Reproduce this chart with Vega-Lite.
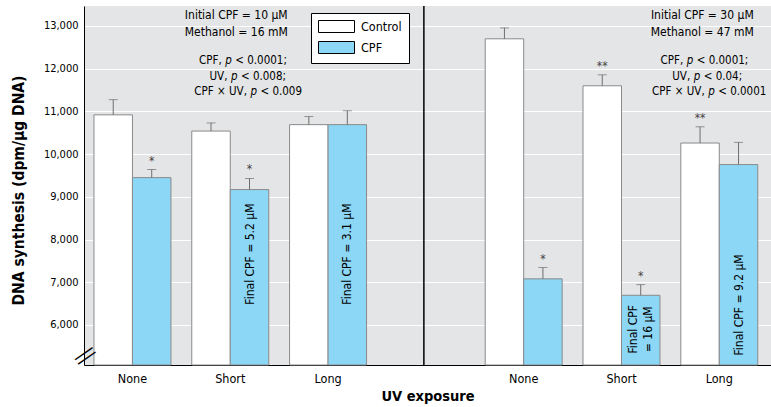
{
  "$schema": "https://vega.github.io/schema/vega-lite/v6.json",
  "width": 687,
  "height": 359,
  "autosize": {"type": "none"},
  "padding": {"left": 84, "top": 6, "right": 0, "bottom": 42},
  "background": "white",
  "config": {
    "font": "DejaVu Sans Condensed, DejaVu Sans, sans-serif",
    "view": {"fill": "#e4e5e6", "stroke": null},
    "axis": {
      "domainColor": "black",
      "domainWidth": 1,
      "ticks": false,
      "labelColor": "black",
      "labelFont": "DejaVu Sans Condensed, DejaVu Sans, sans-serif",
      "titleFont": "DejaVu Sans Condensed, DejaVu Sans, sans-serif",
      "titleColor": "black",
      "titleFontWeight": "bold"
    },
    "legend": {
      "labelFont": "DejaVu Sans Condensed, DejaVu Sans, sans-serif"
    },
    "text": {"font": "DejaVu Sans Condensed, DejaVu Sans, sans-serif"}
  },
  "datasets": {
    "bars": [
      {"slot": "1None", "group": "Control", "value": 10920, "upper": 11275, "sig": ""},
      {"slot": "1None", "group": "CPF", "value": 9450, "upper": 9640, "sig": "*"},
      {"slot": "1Short", "group": "Control", "value": 10540, "upper": 10730, "sig": ""},
      {"slot": "1Short", "group": "CPF", "value": 9170, "upper": 9430, "sig": "*"},
      {"slot": "1Long", "group": "Control", "value": 10690, "upper": 10880, "sig": ""},
      {"slot": "1Long", "group": "CPF", "value": 10690, "upper": 11015, "sig": ""},
      {"slot": "2None", "group": "Control", "value": 12700, "upper": 12955, "sig": ""},
      {"slot": "2None", "group": "CPF", "value": 7080, "upper": 7345, "sig": "*"},
      {"slot": "2Short", "group": "Control", "value": 11600, "upper": 11857, "sig": "**"},
      {"slot": "2Short", "group": "CPF", "value": 6695, "upper": 6945, "sig": "*"},
      {"slot": "2Long", "group": "Control", "value": 10260, "upper": 10640, "sig": "**"},
      {"slot": "2Long", "group": "CPF", "value": 9755, "upper": 10275, "sig": ""}
    ],
    "inbar": [
      {"slot": "1Short", "group": "CPF", "y": 7660, "label": "Final CPF = 5.2 µM"},
      {"slot": "1Long", "group": "CPF", "y": 7660, "label": "Final CPF = 3.1 µM"},
      {"slot": "2Long", "group": "CPF", "y": 6470, "label": "Final CPF = 9.2 µM"}
    ],
    "inbar2": [
      {"slot": "2Short", "group": "CPF", "y": 5900, "label": ["Final CPF", "= 16 µM"]}
    ]
  },
  "encoding": {
    "x": {
      "field": "slot",
      "type": "nominal",
      "title": "UV exposure",
      "scale": {
        "domain": ["1None", "1Short", "1Long", "gap", "2None", "2Short", "2Long"],
        "paddingInner": 0.213,
        "paddingOuter": 0.1186,
        "align": 0.43
      },
      "axis": {
        "labelAngle": 0,
        "labelExpr": "datum.value == 'gap' ? '' : slice(datum.value, 1)",
        "labelFontSize": 12.5,
        "labelPadding": 7,
        "grid": false,
        "titleFontSize": 14.5,
        "titleY": 35,
        "titleBaseline": "alphabetic"
      }
    },
    "y": {
      "type": "quantitative",
      "scale": {"domain": [5063, 13468], "nice": false, "zero": false},
      "axis": {
        "title": "DNA synthesis (dpm/µg DNA)",
        "values": [6000, 7000, 8000, 9000, 10000, 11000, 12000, 13000],
        "format": ",d",
        "grid": true,
        "gridColor": "white",
        "gridWidth": 1,
        "labelFontSize": 11,
        "labelPadding": 6,
        "titleFontSize": 15.5,
        "titleX": -66,
        "titleY": 184,
        "titleBaseline": "middle",
        "titleAlign": "center",
        "titleAngle": 270
      }
    }
  },
  "layer": [
    {
      "data": {"name": "bars"},
      "mark": {"type": "bar", "stroke": "#8a8a8a", "strokeWidth": 1},
      "encoding": {
        "xOffset": {"field": "group", "type": "nominal", "scale": {"domain": ["Control", "CPF"], "paddingInner": 0, "paddingOuter": 0}},
        "y": {"field": "value", "type": "quantitative"},
        "y2": {"datum": 5063},
        "fill": {
          "field": "group",
          "type": "nominal",
          "scale": {"domain": ["Control", "CPF"], "range": ["#ffffff", "#8dd7f6"]},
          "legend": {
            "title": null,
            "orient": "none",
            "legendX": 227,
            "legendY": 7,
            "symbolType": "M-1,-1H5V1H-1Z",
            "symbolSize": 144,
            "symbolStrokeColor": "black",
            "symbolStrokeWidth": 1,
            "symbolOpacity": 1,
            "labelFontSize": 12.5,
            "labelColor": "black",
            "labelOffset": 30,
            "fillColor": "white",
            "strokeColor": "black",
            "padding": 7,
            "rowPadding": 4
          }
        }
      }
    },
    {
      "data": {"name": "bars"},
      "mark": {"type": "rule", "color": "#6e6e6e", "strokeWidth": 1},
      "encoding": {
        "xOffset": {"field": "group", "type": "nominal"},
        "y": {"field": "value", "type": "quantitative"},
        "y2": {"field": "upper"}
      }
    },
    {
      "data": {"name": "bars"},
      "mark": {"type": "tick", "color": "#6e6e6e", "size": 9, "thickness": 1, "orient": "horizontal"},
      "encoding": {
        "xOffset": {"field": "group", "type": "nominal"},
        "y": {"field": "upper", "type": "quantitative"}
      }
    },
    {
      "data": {"name": "bars"},
      "transform": [{"filter": "datum.sig != ''"}],
      "mark": {"type": "text", "fontSize": 12, "color": "#444444", "dy": -5, "baseline": "alphabetic"},
      "encoding": {
        "xOffset": {"field": "group", "type": "nominal"},
        "y": {"field": "upper", "type": "quantitative"},
        "text": {"field": "sig"}
      }
    },
    {
      "data": {"name": "inbar"},
      "mark": {"type": "text", "fontSize": 12, "angle": 270, "align": "center", "baseline": "middle", "color": "black"},
      "encoding": {
        "xOffset": {"field": "group", "type": "nominal"},
        "y": {"field": "y", "type": "quantitative"},
        "text": {"field": "label"}
      }
    },
    {
      "data": {"name": "inbar2"},
      "mark": {"type": "text", "fontSize": 12, "angle": 270, "align": "center", "baseline": "middle", "lineHeight": 15, "dy": -7.5, "color": "black"},
      "encoding": {
        "xOffset": {"field": "group", "type": "nominal"},
        "y": {"field": "y", "type": "quantitative"},
        "text": {"field": "label"}
      }
    },
    {
      "data": {"values": [{"slot": "1Short", "y": 13374, "label": ["Initial CPF = 10 µM", "Methanol = 16 mM"]}]},
      "mark": {"type": "text", "fontSize": 12, "align": "center", "baseline": "top", "lineHeight": 17, "dx": 6, "color": "black"},
      "encoding": {
        "y": {"field": "y", "type": "quantitative"},
        "text": {"field": "label"}
      }
    },
    {
      "data": {"values": [{"slot": "2Long", "y": 13374, "label": ["Initial CPF = 30 µM", "Methanol = 47 mM"]}]},
      "mark": {"type": "text", "fontSize": 12, "align": "center", "baseline": "top", "lineHeight": 17, "dx": -17, "color": "black"},
      "encoding": {
        "y": {"field": "y", "type": "quantitative"},
        "text": {"field": "label"}
      }
    },
    {
      "data": {"values": [{"slot": "1Short", "y": 12103, "pre": "CPF,", "p": "p", "suf": "< 0.0001;"}]},
      "encoding": {"y": {"field": "y", "type": "quantitative"}},
      "layer": [
        {"mark": {"type": "text", "fontSize": 11.5, "align": "right", "baseline": "alphabetic", "dx": -8.5, "color": "black"}, "encoding": {"text": {"field": "pre"}}},
        {"mark": {"type": "text", "fontSize": 11.5, "align": "left", "baseline": "alphabetic", "dx": -5, "fontStyle": "italic", "color": "black"}, "encoding": {"text": {"field": "p"}}},
        {"mark": {"type": "text", "fontSize": 11.5, "align": "left", "baseline": "alphabetic", "dx": 5, "color": "black"}, "encoding": {"text": {"field": "suf"}}}
      ]
    },
    {
      "data": {"values": [{"slot": "1Short", "y": 11735, "pre": "UV,", "p": "p", "suf": "< 0.008;"}]},
      "encoding": {"y": {"field": "y", "type": "quantitative"}},
      "layer": [
        {"mark": {"type": "text", "fontSize": 11.5, "align": "right", "baseline": "alphabetic", "dx": -2.8, "color": "black"}, "encoding": {"text": {"field": "pre"}}},
        {"mark": {"type": "text", "fontSize": 11.5, "align": "left", "baseline": "alphabetic", "dx": 0.7, "fontStyle": "italic", "color": "black"}, "encoding": {"text": {"field": "p"}}},
        {"mark": {"type": "text", "fontSize": 11.5, "align": "left", "baseline": "alphabetic", "dx": 10.7, "color": "black"}, "encoding": {"text": {"field": "suf"}}}
      ]
    },
    {
      "data": {"values": [{"slot": "1Short", "y": 11391, "pre": "CPF × UV,", "p": "p", "suf": "< 0.009"}]},
      "encoding": {"y": {"field": "y", "type": "quantitative"}},
      "layer": [
        {"mark": {"type": "text", "fontSize": 11.5, "align": "right", "baseline": "alphabetic", "dx": 16.7, "color": "black"}, "encoding": {"text": {"field": "pre"}}},
        {"mark": {"type": "text", "fontSize": 11.5, "align": "left", "baseline": "alphabetic", "dx": 20.2, "fontStyle": "italic", "color": "black"}, "encoding": {"text": {"field": "p"}}},
        {"mark": {"type": "text", "fontSize": 11.5, "align": "left", "baseline": "alphabetic", "dx": 30.2, "color": "black"}, "encoding": {"text": {"field": "suf"}}}
      ]
    },
    {
      "data": {"values": [{"slot": "2Long", "y": 12103, "pre": "CPF,", "p": "p", "suf": "< 0.0001;"}]},
      "encoding": {"y": {"field": "y", "type": "quantitative"}},
      "layer": [
        {"mark": {"type": "text", "fontSize": 11.5, "align": "right", "baseline": "alphabetic", "dx": -36.1, "color": "black"}, "encoding": {"text": {"field": "pre"}}},
        {"mark": {"type": "text", "fontSize": 11.5, "align": "left", "baseline": "alphabetic", "dx": -32.6, "fontStyle": "italic", "color": "black"}, "encoding": {"text": {"field": "p"}}},
        {"mark": {"type": "text", "fontSize": 11.5, "align": "left", "baseline": "alphabetic", "dx": -22.6, "color": "black"}, "encoding": {"text": {"field": "suf"}}}
      ]
    },
    {
      "data": {"values": [{"slot": "2Long", "y": 11735, "pre": "UV,", "p": "p", "suf": "< 0.04;"}]},
      "encoding": {"y": {"field": "y", "type": "quantitative"}},
      "layer": [
        {"mark": {"type": "text", "fontSize": 11.5, "align": "right", "baseline": "alphabetic", "dx": -29.1, "color": "black"}, "encoding": {"text": {"field": "pre"}}},
        {"mark": {"type": "text", "fontSize": 11.5, "align": "left", "baseline": "alphabetic", "dx": -25.6, "fontStyle": "italic", "color": "black"}, "encoding": {"text": {"field": "p"}}},
        {"mark": {"type": "text", "fontSize": 11.5, "align": "left", "baseline": "alphabetic", "dx": -15.6, "color": "black"}, "encoding": {"text": {"field": "suf"}}}
      ]
    },
    {
      "data": {"values": [{"slot": "2Long", "y": 11391, "pre": "CPF × UV,", "p": "p", "suf": "< 0.0001"}]},
      "encoding": {"y": {"field": "y", "type": "quantitative"}},
      "layer": [
        {"mark": {"type": "text", "fontSize": 11.5, "align": "right", "baseline": "alphabetic", "dx": -14.6, "color": "black"}, "encoding": {"text": {"field": "pre"}}},
        {"mark": {"type": "text", "fontSize": 11.5, "align": "left", "baseline": "alphabetic", "dx": -11.1, "fontStyle": "italic", "color": "black"}, "encoding": {"text": {"field": "p"}}},
        {"mark": {"type": "text", "fontSize": 11.5, "align": "left", "baseline": "alphabetic", "dx": -1.1, "color": "black"}, "encoding": {"text": {"field": "suf"}}}
      ]
    },
    {
      "data": {"values": [{"slot": "gap"}]},
      "mark": {"type": "rule", "color": "black", "strokeWidth": 1.5, "xOffset": -2},
      "encoding": {
        "x": {"field": "slot", "type": "nominal"}
      }
    },
    {
      "data": {"values": [{"slot": "1None", "mark": "="}]},
      "mark": {"type": "text", "fontSize": 34, "angle": -35, "align": "center", "baseline": "middle", "dx": -10, "color": "black", "font": "DejaVu Sans", "fontWeight": 200},
      "encoding": {
        "x": {"field": "slot", "type": "nominal", "bandPosition": 0},
        "y": {"datum": 5400},
        "text": {"field": "mark"}
      }
    }
  ]
}
